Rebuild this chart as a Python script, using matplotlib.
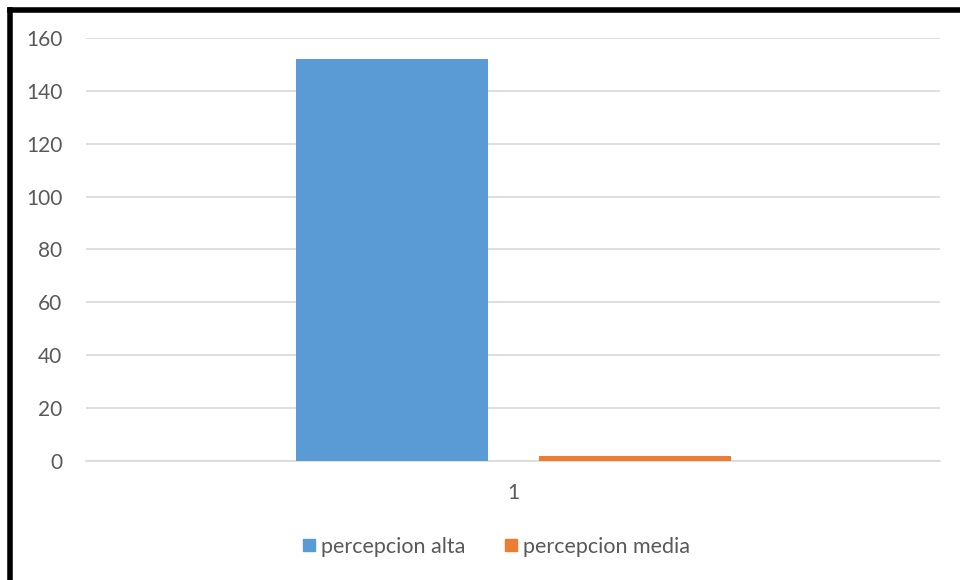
import matplotlib
matplotlib.use("Agg")
import matplotlib.pyplot as plt
from matplotlib.lines import Line2D

categories = ["1"]
series_names = ["percepcion alta", "percepcion media"]
series_values = [[152], [2]]
series_colors = ["#5b9bd5", "#ed7d31"]
y_ticks = [0, 20, 40, 60, 80, 100, 120, 140, 160]

plt.rcParams["font.family"] = ["Lato", "DejaVu Sans"]

fig = plt.figure(figsize=(9.6, 5.8), dpi=100)
ax = fig.add_axes([86 / 960, 1 - 461 / 580, (940 - 86) / 960, (461 - 38) / 580])

bar_width = 0.225
offsets = [-0.142, 0.143]
for name, vals, color, off in zip(series_names, series_values, series_colors, offsets):
    xs = [i + off for i in range(len(categories))]
    ax.bar(xs, vals, width=bar_width, color=color, label=name, zorder=3)

ax.set_xlim(-0.5, len(categories) - 0.5)
ax.set_ylim(0, 160)
ax.set_yticks(y_ticks)
ax.set_xticks(range(len(categories)))
ax.set_xticklabels(categories)
ax.yaxis.grid(True, color="#d9d9d9", linewidth=1.2, zorder=0)
for s in ["top", "right", "left"]:
    ax.spines[s].set_visible(False)
ax.spines["bottom"].set_color("#d9d9d9")
ax.spines["bottom"].set_linewidth(1.2)
ax.tick_params(axis="both", length=0, labelsize=15, colors="#595959")
ax.tick_params(axis="y", pad=17)
ax.tick_params(axis="x", pad=16)

handles = [Line2D([0], [0], marker="s", linestyle="", markersize=8.6,
                  markerfacecolor=c, markeredgecolor=c) for c in series_colors]
fig.legend(handles, series_names, loc="center", bbox_to_anchor=(494 / 960, 1 - 547 / 580),
           ncol=2, frameon=False, fontsize=15.5, labelcolor="#595959",
           handletextpad=0.05, columnspacing=1.6, handlelength=1.0)

# frame edges along the left and top of the figure
fig.add_artist(Line2D([10 / 960, 10 / 960], [0, 1 - 10 / 580], transform=fig.transFigure,
                      color="black", linewidth=4, solid_capstyle="projecting"))
fig.add_artist(Line2D([10 / 960, 1], [1 - 10 / 580, 1 - 10 / 580], transform=fig.transFigure,
                      color="black", linewidth=4, solid_capstyle="projecting"))

fig.savefig("out.png", dpi=100, facecolor="white")
